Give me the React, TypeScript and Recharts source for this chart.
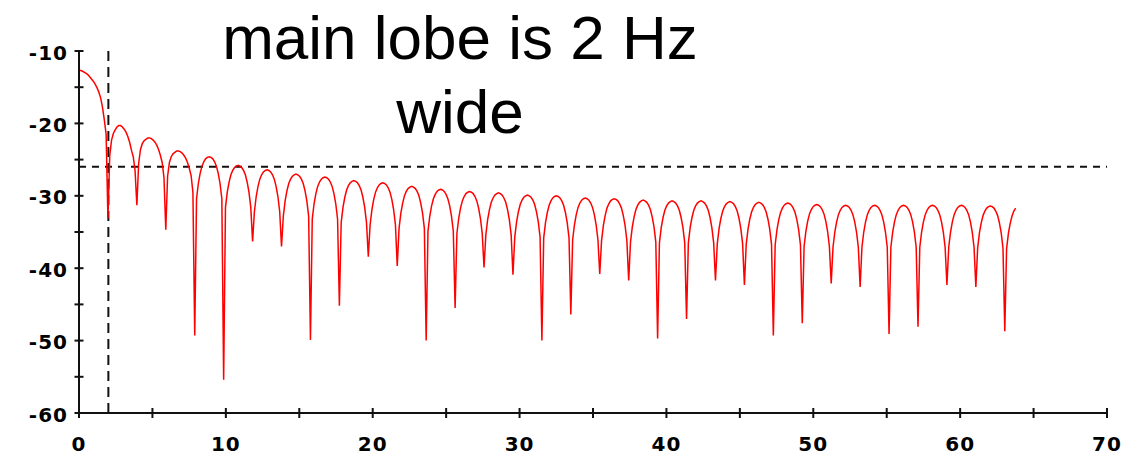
import { LineChart, Line, XAxis, YAxis, ReferenceLine } from 'recharts';

// spectrum is sampled every binHz; nulls fall every 16 bins (~1.97 Hz)
const binHz = 0.123125;

const mainLobeDb = [
  -12.65, -12.7, -12.8, -12.95, -13.1, -13.3, -13.6, -13.9,
  -14.2, -14.6, -15.1, -15.7, -16.5, -17.8, -19.5, -21.5,
];

// each row: the null value, then the 15 bins of the sidelobe that follows it
const sidelobeRows: number[][] = [
  [-33.1, -24.5, -22.3, -21.4, -20.9, -20.5, -20.3, -20.3, -20.5, -20.8, -21.2, -21.8, -22.6, -23.7, -24.6, -26.5],
  [-31.3, -25.5, -23.6, -22.8, -22.4, -22.2, -22.0, -22.0, -22.1, -22.3, -22.6, -23.0, -23.6, -24.4, -25.4, -27.5],
  [-34.7, -27.3, -25.4, -24.6, -24.2, -24.0, -23.8, -23.8, -23.9, -24.1, -24.4, -24.8, -25.4, -26.2, -27.2, -29.5],
  [-49.3, -30.4, -28.3, -26.9, -25.9, -25.3, -24.9, -24.7, -24.6, -24.7, -24.9, -25.3, -25.9, -26.9, -28.3, -30.4],
  [-55.4, -31.6, -29.5, -28.1, -27.1, -26.5, -26.1, -25.9, -25.8, -25.9, -26.1, -26.5, -27.1, -28.1, -29.5, -31.6],
  [-36.3, -32.2, -30.1, -28.7, -27.7, -27.1, -26.7, -26.5, -26.4, -26.5, -26.7, -27.1, -27.7, -28.7, -30.1, -32.2],
  [-37.0, -32.8, -30.7, -29.3, -28.3, -27.7, -27.3, -27.1, -27.0, -27.1, -27.3, -27.7, -28.3, -29.3, -30.7, -32.8],
  [-49.9, -33.2, -31.1, -29.7, -28.7, -28.1, -27.7, -27.5, -27.4, -27.5, -27.7, -28.1, -28.7, -29.7, -31.1, -33.2],
  [-45.2, -33.7, -31.6, -30.2, -29.2, -28.6, -28.2, -28.0, -27.9, -28.0, -28.2, -28.6, -29.2, -30.2, -31.6, -33.7],
  [-38.4, -34.0, -31.9, -30.5, -29.5, -28.9, -28.5, -28.3, -28.2, -28.3, -28.5, -28.9, -29.5, -30.5, -31.9, -34.0],
  [-39.7, -34.5, -32.4, -31.0, -30.0, -29.4, -29.0, -28.8, -28.7, -28.8, -29.0, -29.4, -30.0, -31.0, -32.4, -34.5],
  [-50.0, -34.9, -32.8, -31.4, -30.4, -29.8, -29.4, -29.2, -29.1, -29.2, -29.4, -29.8, -30.4, -31.4, -32.8, -34.9],
  [-45.5, -35.2, -33.1, -31.7, -30.7, -30.1, -29.7, -29.5, -29.4, -29.5, -29.7, -30.1, -30.7, -31.7, -33.1, -35.2],
  [-39.9, -35.4, -33.3, -31.9, -30.9, -30.3, -29.9, -29.7, -29.6, -29.7, -29.9, -30.3, -30.9, -31.9, -33.3, -35.4],
  [-40.9, -35.7, -33.6, -32.2, -31.2, -30.6, -30.2, -30.0, -29.9, -30.0, -30.2, -30.6, -31.2, -32.2, -33.6, -35.7],
  [-50.0, -35.8, -33.7, -32.3, -31.3, -30.7, -30.3, -30.1, -30.0, -30.1, -30.3, -30.7, -31.3, -32.3, -33.7, -35.8],
  [-46.4, -36.1, -34.0, -32.6, -31.6, -31.0, -30.6, -30.4, -30.3, -30.4, -30.6, -31.0, -31.6, -32.6, -34.0, -36.1],
  [-40.8, -36.2, -34.1, -32.7, -31.7, -31.1, -30.7, -30.5, -30.4, -30.5, -30.7, -31.1, -31.7, -32.7, -34.1, -36.2],
  [-41.7, -36.4, -34.3, -32.9, -31.9, -31.3, -30.9, -30.7, -30.6, -30.7, -30.9, -31.3, -31.9, -32.9, -34.3, -36.4],
  [-49.7, -36.5, -34.4, -33.0, -32.0, -31.4, -31.0, -30.8, -30.7, -30.8, -31.0, -31.4, -32.0, -33.0, -34.4, -36.5],
  [-47.0, -36.5, -34.4, -33.0, -32.0, -31.4, -31.0, -30.8, -30.7, -30.8, -31.0, -31.4, -32.0, -33.0, -34.4, -36.5],
  [-41.7, -36.6, -34.5, -33.1, -32.1, -31.5, -31.1, -30.9, -30.8, -30.9, -31.1, -31.5, -32.1, -33.1, -34.5, -36.6],
  [-42.3, -36.7, -34.6, -33.2, -32.2, -31.6, -31.2, -31.0, -30.9, -31.0, -31.2, -31.6, -32.2, -33.2, -34.6, -36.7],
  [-49.3, -36.8, -34.7, -33.3, -32.3, -31.7, -31.3, -31.1, -31.0, -31.1, -31.3, -31.7, -32.3, -33.3, -34.7, -36.8],
  [-47.6, -37.0, -34.9, -33.5, -32.5, -31.9, -31.5, -31.3, -31.2, -31.3, -31.5, -31.9, -32.5, -33.5, -34.9, -37.0],
  [-42.1, -37.1, -35.0, -33.6, -32.6, -32.0, -31.6, -31.4, -31.3, -31.4, -31.6, -32.0, -32.6, -33.6, -35.0, -37.1],
  [-42.6, -37.1, -35.0, -33.6, -32.6, -32.0, -31.6, -31.4, -31.3, -31.4, -31.6, -32.0, -32.6, -33.6, -35.0, -37.1],
  [-49.1, -37.1, -35.0, -33.6, -32.6, -32.0, -31.6, -31.4, -31.3, -31.4, -31.6, -32.0, -32.6, -33.6, -35.0, -37.1],
  [-48.1, -37.1, -35.0, -33.6, -32.6, -32.0, -31.6, -31.4, -31.3, -31.4, -31.6, -32.0, -32.6, -33.6, -35.0, -37.1],
  [-42.3, -37.1, -35.0, -33.6, -32.6, -32.0, -31.6, -31.4, -31.3, -31.4, -31.6, -32.0, -32.6, -33.6, -35.0, -37.1],
  [-42.6, -37.2, -35.1, -33.7, -32.7, -32.1, -31.7, -31.5, -31.4, -31.5, -31.7, -32.1, -32.7, -33.7, -35.1, -37.2],
  [-48.7, -37.3, -35.2, -33.8, -32.8, -32.1, -31.7],
];

const xTicks = [0, 5, 10, 15, 20, 25, 30, 35, 40, 45, 50, 55, 60, 65, 70];
const yTicks = [-60, -55, -50, -45, -40, -35, -30, -25, -20, -15, -10];

const mainLobeEdgeHz = 2;
const sidelobeLevelDb = -26;
const titleLines = ['main lobe is 2 Hz', 'wide'];

const spectrumDb = [...mainLobeDb, ...sidelobeRows.flat()];
const data = spectrumDb.map((db, i) => ({ f: i * binHz, db }));

const tickFont = {
  fontFamily: '"DejaVu Sans", sans-serif',
  fontWeight: 700,
  fontSize: 20,
  letterSpacing: 1,
  fill: '#000',
};

const XTick = ({ x, y, payload }: any) => (
  <g>
    <line x1={x} y1={y - 5} x2={x} y2={y + 5} stroke="#111" strokeWidth={2} />
    {payload.value % 10 === 0 && (
      <text x={x} y={y + 38} textAnchor="middle" {...tickFont}>
        {payload.value}
      </text>
    )}
  </g>
);

const YTick = ({ x, y, payload }: any) => (
  <g>
    <line x1={x - 4.5} y1={y} x2={x + 4.5} y2={y} stroke="#111" strokeWidth={2} />
    {payload.value % 10 === 0 && (
      <text x={x - 11} y={y + 8.5} textAnchor="end" {...tickFont}>
        {payload.value}
      </text>
    )}
  </g>
);

export default function App() {
  return (
    <div style={{ position: 'absolute', left: 0, top: 0, width: 1143, height: 456, background: '#fff' }}>
      <LineChart width={1143} height={456} data={data} margin={{ top: 51, right: 36, bottom: 0, left: 0 }}>
        <XAxis
          dataKey="f"
          type="number"
          domain={[0, 70]}
          ticks={xTicks}
          interval={0}
          height={43}
          tickSize={0}
          tickMargin={0}
          tickLine={false}
          axisLine={{ stroke: '#111', strokeWidth: 2 }}
          tick={<XTick />}
        />
        <YAxis
          type="number"
          domain={[-60, -10]}
          ticks={yTicks}
          interval={0}
          width={79}
          tickSize={0}
          tickMargin={0}
          tickLine={false}
          axisLine={{ stroke: '#111', strokeWidth: 2 }}
          tick={<YTick />}
        />
        <ReferenceLine x={mainLobeEdgeHz} stroke="#111" strokeWidth={2} strokeDasharray="10 6" />
        <ReferenceLine y={sidelobeLevelDb} stroke="#111" strokeWidth={2} strokeDasharray="7 6" />
        <Line
          dataKey="db"
          type="linear"
          stroke="#ff0000"
          strokeWidth={1.5}
          dot={false}
          activeDot={false}
          isAnimationActive={false}
        />
      </LineChart>
      <div
        style={{
          position: 'absolute',
          left: 0,
          top: 1,
          width: 920,
          textAlign: 'center',
          fontFamily: '"Liberation Sans", Arial, sans-serif',
          fontSize: 62,
          lineHeight: '74px',
          color: '#000',
        }}
      >
        {titleLines.map((t) => (
          <div key={t}>{t}</div>
        ))}
      </div>
    </div>
  );
}
